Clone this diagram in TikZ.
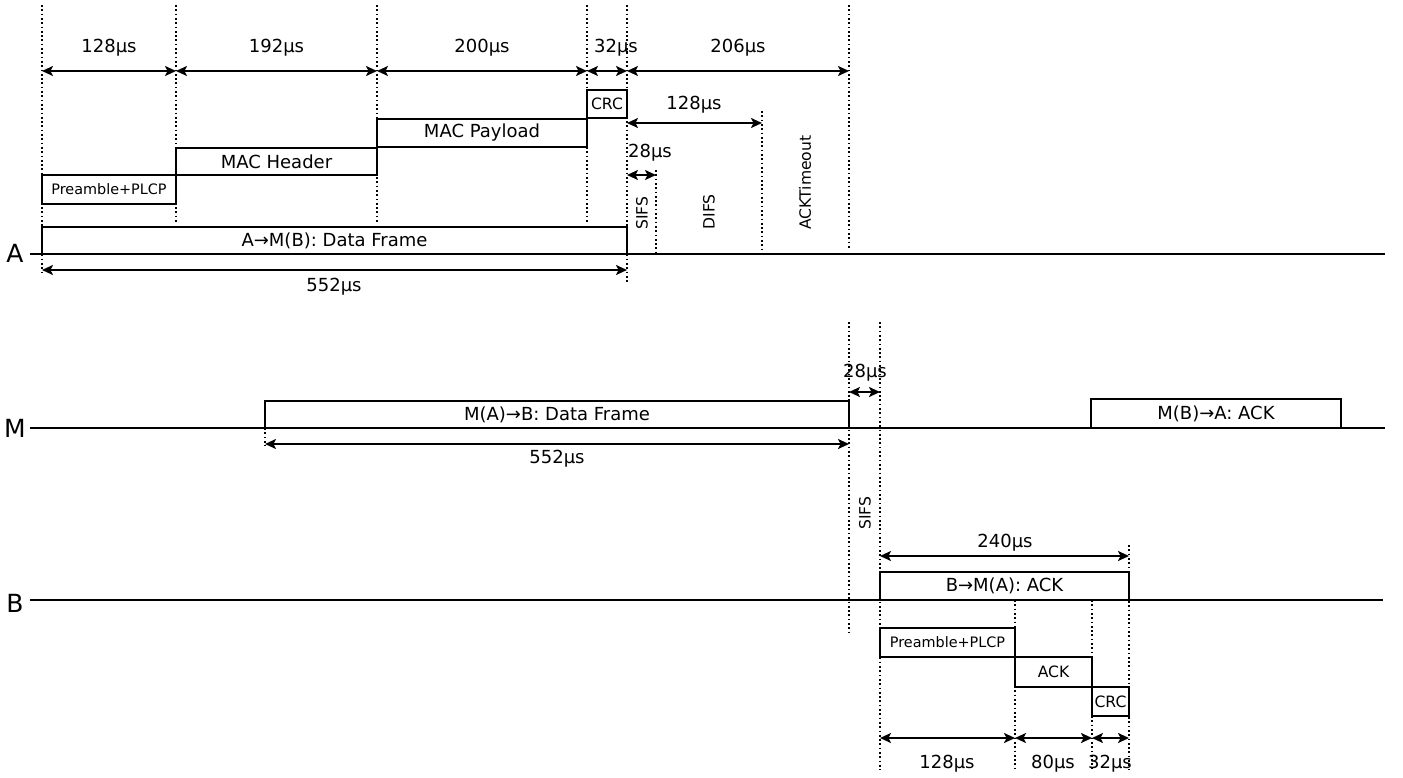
\documentclass[tikz,border=0pt]{standalone}
\usepackage{fontspec}
\setmainfont{DejaVu Sans}
\usetikzlibrary{arrows.meta}
\newcommand\segbox[7][]{%
  \draw[frm] (#3,#4) rectangle (#5,#6);
  \node[#1] (#2) at ({(#3+#5)/2},{(#4+#6)/2}) {#7};}
\begin{document}
\begin{tikzpicture}[x=0.5pt,y=-0.5pt,
  every node/.style={inner sep=0pt, font=\fontsize{9}{11}\selectfont},
  lane/.style={line width=1.15pt},
  frm/.style={line width=1.1pt},
  tick/.style={line width=0.85pt, dash pattern=on 0.85pt off 1.3pt},
  tip/.style={},
  dim/.style={line width=1.05pt, {Stealth[length=5.5pt,width=5pt,inset=1.3pt]}-{Stealth[length=5.5pt,width=5pt,inset=1.3pt]}},
  sm/.style={font=\fontsize{7.8}{9}\selectfont},
  xs/.style={font=\fontsize{7.2}{8}\selectfont},
  rot/.style={rotate=90, anchor=west, font=\fontsize{7.8}{9}\selectfont},
  lanelabel/.style={font=\fontsize{12.5}{14}\selectfont}]
\useasboundingbox (0,0) rectangle (1403,777);

% lanes
\node[lanelabel] (lA) at (15,253) {A};
\node[lanelabel] (lM) at (15,428) {M};
\node[lanelabel] (lB) at (15,603) {B};
\coordinate (sA) at (30,254); \coordinate (eA) at (1385,254);
\coordinate (sM) at (30,428); \coordinate (eM) at (1385,428);
\coordinate (sB) at (30,600); \coordinate (eB) at (1383,600);
\draw[lane] (sA) -- (eA);
\draw[lane] (sM) -- (eM);
\draw[lane] (sB) -- (eB);

% dotted time marks
\draw[tick] (42,5) -- (42,272);
\draw[tick] (176,5) -- (176,222);
\draw[tick] (377,5) -- (377,222);
\draw[tick] (587,5) -- (587,222);
\draw[tick] (627,5) -- (627,283);
\draw[tick] (849,5) -- (849,250);
\draw[tick] (656,170) -- (656,254);
\draw[tick] (762,111) -- (762,254);
\draw[tick] (265,428) -- (265,446);
\draw[tick] (849,322) -- (849,635);
\draw[tick] (880,322) -- (880,770);
\draw[tick] (1015,600) -- (1015,770);
\draw[tick] (1092,600) -- (1092,770);
\draw[tick] (1129,545) -- (1129,770);

% frames A
\segbox[xs]{preA}{42}{175}{176}{204}{Preamble+PLCP}
\segbox{hdrA}{176}{148}{377}{175}{MAC Header}
\segbox{payA}{377}{119}{587}{147}{MAC Payload}
\segbox[sm]{crcA}{587}{90}{627}{118}{CRC}
\segbox{dfA}{42}{227}{627}{254}{A→M(B): Data Frame}
% frames M
\segbox{dfM}{265}{401}{849}{428}{M(A)→B: Data Frame}
\segbox{ackM}{1091}{399}{1341}{428}{M(B)→A: ACK}
% frames B
\segbox{ackB}{880}{572}{1129}{600}{B→M(A): ACK}
\segbox[xs]{preB}{880}{628}{1015}{657}{Preamble+PLCP}
\segbox[sm]{ackfB}{1015}{657}{1092}{687}{ACK}
\segbox[sm]{crcB}{1092}{687}{1129}{716}{CRC}

% dimension arrows A
\coordinate (a0) at (42,71); \coordinate (a1) at (176,71); \coordinate (a2) at (377,71);
\coordinate (a3) at (587,71); \coordinate (a4) at (627,71); \coordinate (a5) at (849,71);
\draw[dim] (a0) -- (a1); \draw[dim] (a1) -- (a2); \draw[dim] (a2) -- (a3);
\draw[dim] (a3) -- (a4); \draw[dim] (a4) -- (a5);
\node (t1) at (109,48) {128µs};
\node (t2) at (276.5,48) {192µs};
\node (t3) at (482,48) {200µs};
\node (t4) at (616,48) {32µs};
\node (t5) at (738,48) {206µs};
\coordinate (d0) at (627,123); \coordinate (d1) at (762,123);
\draw[dim] (d0) -- (d1);
\node (tdifs) at (694,105) {128µs};
\coordinate (s0) at (627,175); \coordinate (s1) at (656,175);
\draw[dim] (s0) -- (s1);
\node (tsifs) at (650,153) {28µs};
\coordinate (f0) at (42,270); \coordinate (f1) at (627,270);
\draw[dim] (f0) -- (f1);
\node (tfA) at (334,287) {552µs};
\node[rot] (lsifsA) at (642,230) {SIFS};
\node[rot] (ldifsA) at (709,230) {DIFS};
\node[rot] (lackto) at (805,230) {ACKTimeout};

% dimension arrows M
\coordinate (m0) at (265,444); \coordinate (m1) at (849,444);
\draw[dim] (m0) -- (m1);
\node (tfM) at (557,459) {552µs};
\coordinate (ms0) at (849,392); \coordinate (ms1) at (880,392);
\draw[dim] (ms0) -- (ms1);
\node (tsifsM) at (865,373) {28µs};
\node[rot] (lsifsM) at (865,530) {SIFS};

% dimension arrows B
\coordinate (b0) at (880,556); \coordinate (b1) at (1129,556);
\draw[dim] (b0) -- (b1);
\node (tackB) at (1005,543) {240µs};
\coordinate (c0) at (880,738); \coordinate (c1) at (1015,738);
\coordinate (c2) at (1092,738); \coordinate (c3) at (1129,738);
\draw[dim] (c0) -- (c1); \draw[dim] (c1) -- (c2); \draw[dim] (c2) -- (c3);
\node (tpB) at (947,764) {128µs};
\node (taB) at (1053,764) {80µs};
\node (tcB) at (1110,764) {32µs};
\end{tikzpicture}
\end{document}
